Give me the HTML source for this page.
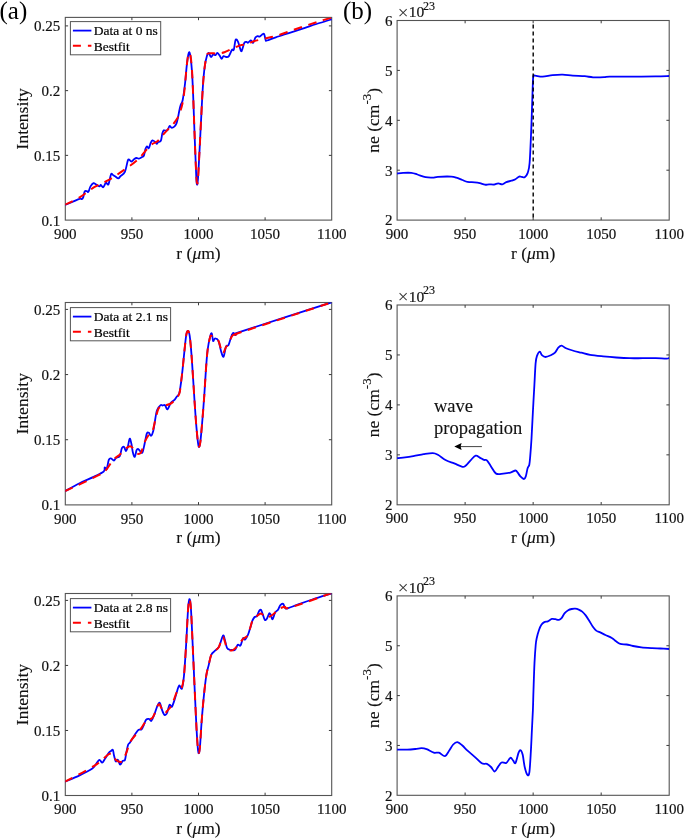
<!DOCTYPE html>
<html><head><meta charset="utf-8"><style>
html,body{margin:0;padding:0;background:#fff;}
svg{display:block;}
.t{font-family:"Liberation Serif","Times New Roman",serif;font-size:15px;fill:#111;stroke:#111;stroke-width:0.18px;}
.l{font-family:"Liberation Serif","Times New Roman",serif;font-size:13.5px;fill:#000;stroke:#000;stroke-width:0.2px;}
.p{font-family:"Liberation Serif","Times New Roman",serif;font-size:25px;fill:#000;}
.lb{font-family:"Liberation Serif","Times New Roman",serif;font-size:17.5px;fill:#111;stroke:#111;stroke-width:0.12px;}
</style></head><body>
<svg width="685" height="838" viewBox="0 0 685 838">
<rect width="685" height="838" fill="#fff"/>
<rect x="65.3" y="17.4" width="266.4" height="202.7" fill="none" stroke="#545454" stroke-width="1.1"/>
<text x="65.3" y="238.7" text-anchor="middle" class="t">900</text>
<line x1="131.9" y1="220.1" x2="131.9" y2="217.3" stroke="#3a3a3a" stroke-width="1"/>
<line x1="131.9" y1="17.4" x2="131.9" y2="20.2" stroke="#3a3a3a" stroke-width="1"/>
<text x="131.9" y="238.7" text-anchor="middle" class="t">950</text>
<line x1="198.5" y1="220.1" x2="198.5" y2="217.3" stroke="#3a3a3a" stroke-width="1"/>
<line x1="198.5" y1="17.4" x2="198.5" y2="20.2" stroke="#3a3a3a" stroke-width="1"/>
<text x="198.5" y="238.7" text-anchor="middle" class="t">1000</text>
<line x1="265.1" y1="220.1" x2="265.1" y2="217.3" stroke="#3a3a3a" stroke-width="1"/>
<line x1="265.1" y1="17.4" x2="265.1" y2="20.2" stroke="#3a3a3a" stroke-width="1"/>
<text x="265.1" y="238.7" text-anchor="middle" class="t">1050</text>
<text x="331.7" y="238.7" text-anchor="middle" class="t">1100</text>
<text x="198.5" y="258.6" text-anchor="middle" class="lb">r (<tspan font-style="italic">μ</tspan>m)</text>
<text x="60.3" y="225.6" text-anchor="end" class="t">0.1</text>
<line x1="65.3" y1="155.37" x2="68.1" y2="155.37" stroke="#3a3a3a" stroke-width="1"/>
<line x1="331.7" y1="155.37" x2="328.9" y2="155.37" stroke="#3a3a3a" stroke-width="1"/>
<text x="60.3" y="160.87" text-anchor="end" class="t">0.15</text>
<line x1="65.3" y1="90.63" x2="68.1" y2="90.63" stroke="#3a3a3a" stroke-width="1"/>
<line x1="331.7" y1="90.63" x2="328.9" y2="90.63" stroke="#3a3a3a" stroke-width="1"/>
<text x="60.3" y="96.13" text-anchor="end" class="t">0.2</text>
<line x1="65.3" y1="25.9" x2="68.1" y2="25.9" stroke="#3a3a3a" stroke-width="1"/>
<line x1="331.7" y1="25.9" x2="328.9" y2="25.9" stroke="#3a3a3a" stroke-width="1"/>
<text x="60.3" y="31.4" text-anchor="end" class="t">0.25</text>
<text transform="translate(27.8,118.75) rotate(-90)" text-anchor="middle" class="lb">Intensity</text>
<rect x="65.3" y="302.5" width="266.4" height="202.4" fill="none" stroke="#545454" stroke-width="1.1"/>
<text x="65.3" y="523.5" text-anchor="middle" class="t">900</text>
<line x1="131.9" y1="504.9" x2="131.9" y2="502.1" stroke="#3a3a3a" stroke-width="1"/>
<line x1="131.9" y1="302.5" x2="131.9" y2="305.3" stroke="#3a3a3a" stroke-width="1"/>
<text x="131.9" y="523.5" text-anchor="middle" class="t">950</text>
<line x1="198.5" y1="504.9" x2="198.5" y2="502.1" stroke="#3a3a3a" stroke-width="1"/>
<line x1="198.5" y1="302.5" x2="198.5" y2="305.3" stroke="#3a3a3a" stroke-width="1"/>
<text x="198.5" y="523.5" text-anchor="middle" class="t">1000</text>
<line x1="265.1" y1="504.9" x2="265.1" y2="502.1" stroke="#3a3a3a" stroke-width="1"/>
<line x1="265.1" y1="302.5" x2="265.1" y2="305.3" stroke="#3a3a3a" stroke-width="1"/>
<text x="265.1" y="523.5" text-anchor="middle" class="t">1050</text>
<text x="331.7" y="523.5" text-anchor="middle" class="t">1100</text>
<text x="198.5" y="543.4" text-anchor="middle" class="lb">r (<tspan font-style="italic">μ</tspan>m)</text>
<text x="60.3" y="510.4" text-anchor="end" class="t">0.1</text>
<line x1="65.3" y1="439.73" x2="68.1" y2="439.73" stroke="#3a3a3a" stroke-width="1"/>
<line x1="331.7" y1="439.73" x2="328.9" y2="439.73" stroke="#3a3a3a" stroke-width="1"/>
<text x="60.3" y="445.23" text-anchor="end" class="t">0.15</text>
<line x1="65.3" y1="374.57" x2="68.1" y2="374.57" stroke="#3a3a3a" stroke-width="1"/>
<line x1="331.7" y1="374.57" x2="328.9" y2="374.57" stroke="#3a3a3a" stroke-width="1"/>
<text x="60.3" y="380.07" text-anchor="end" class="t">0.2</text>
<line x1="65.3" y1="309.4" x2="68.1" y2="309.4" stroke="#3a3a3a" stroke-width="1"/>
<line x1="331.7" y1="309.4" x2="328.9" y2="309.4" stroke="#3a3a3a" stroke-width="1"/>
<text x="60.3" y="314.9" text-anchor="end" class="t">0.25</text>
<text transform="translate(27.8,403.7) rotate(-90)" text-anchor="middle" class="lb">Intensity</text>
<rect x="65.3" y="593.5" width="266.4" height="202" fill="none" stroke="#545454" stroke-width="1.1"/>
<text x="65.3" y="814.1" text-anchor="middle" class="t">900</text>
<line x1="131.9" y1="795.5" x2="131.9" y2="792.7" stroke="#3a3a3a" stroke-width="1"/>
<line x1="131.9" y1="593.5" x2="131.9" y2="596.3" stroke="#3a3a3a" stroke-width="1"/>
<text x="131.9" y="814.1" text-anchor="middle" class="t">950</text>
<line x1="198.5" y1="795.5" x2="198.5" y2="792.7" stroke="#3a3a3a" stroke-width="1"/>
<line x1="198.5" y1="593.5" x2="198.5" y2="596.3" stroke="#3a3a3a" stroke-width="1"/>
<text x="198.5" y="814.1" text-anchor="middle" class="t">1000</text>
<line x1="265.1" y1="795.5" x2="265.1" y2="792.7" stroke="#3a3a3a" stroke-width="1"/>
<line x1="265.1" y1="593.5" x2="265.1" y2="596.3" stroke="#3a3a3a" stroke-width="1"/>
<text x="265.1" y="814.1" text-anchor="middle" class="t">1050</text>
<text x="331.7" y="814.1" text-anchor="middle" class="t">1100</text>
<text x="198.5" y="834" text-anchor="middle" class="lb">r (<tspan font-style="italic">μ</tspan>m)</text>
<text x="60.3" y="801" text-anchor="end" class="t">0.1</text>
<line x1="65.3" y1="730.47" x2="68.1" y2="730.47" stroke="#3a3a3a" stroke-width="1"/>
<line x1="331.7" y1="730.47" x2="328.9" y2="730.47" stroke="#3a3a3a" stroke-width="1"/>
<text x="60.3" y="735.97" text-anchor="end" class="t">0.15</text>
<line x1="65.3" y1="665.43" x2="68.1" y2="665.43" stroke="#3a3a3a" stroke-width="1"/>
<line x1="331.7" y1="665.43" x2="328.9" y2="665.43" stroke="#3a3a3a" stroke-width="1"/>
<text x="60.3" y="670.93" text-anchor="end" class="t">0.2</text>
<line x1="65.3" y1="600.4" x2="68.1" y2="600.4" stroke="#3a3a3a" stroke-width="1"/>
<line x1="331.7" y1="600.4" x2="328.9" y2="600.4" stroke="#3a3a3a" stroke-width="1"/>
<text x="60.3" y="605.9" text-anchor="end" class="t">0.25</text>
<text transform="translate(27.8,694.5) rotate(-90)" text-anchor="middle" class="lb">Intensity</text>
<rect x="397.1" y="20.5" width="272.1" height="199.6" fill="none" stroke="#545454" stroke-width="1.1"/>
<text x="397.1" y="238.7" text-anchor="middle" class="t">900</text>
<line x1="465.12" y1="220.1" x2="465.12" y2="217.3" stroke="#3a3a3a" stroke-width="1"/>
<line x1="465.12" y1="20.5" x2="465.12" y2="23.3" stroke="#3a3a3a" stroke-width="1"/>
<text x="465.12" y="238.7" text-anchor="middle" class="t">950</text>
<line x1="533.15" y1="220.1" x2="533.15" y2="217.3" stroke="#3a3a3a" stroke-width="1"/>
<line x1="533.15" y1="20.5" x2="533.15" y2="23.3" stroke="#3a3a3a" stroke-width="1"/>
<text x="533.15" y="238.7" text-anchor="middle" class="t">1000</text>
<line x1="601.18" y1="220.1" x2="601.18" y2="217.3" stroke="#3a3a3a" stroke-width="1"/>
<line x1="601.18" y1="20.5" x2="601.18" y2="23.3" stroke="#3a3a3a" stroke-width="1"/>
<text x="601.18" y="238.7" text-anchor="middle" class="t">1050</text>
<text x="669.2" y="238.7" text-anchor="middle" class="t">1100</text>
<text x="533.15" y="258.6" text-anchor="middle" class="lb">r (<tspan font-style="italic">μ</tspan>m)</text>
<text x="392.5" y="225.4" text-anchor="end" class="t">2</text>
<line x1="397.1" y1="170.2" x2="399.9" y2="170.2" stroke="#3a3a3a" stroke-width="1"/>
<line x1="669.2" y1="170.2" x2="666.4" y2="170.2" stroke="#3a3a3a" stroke-width="1"/>
<text x="392.5" y="175.5" text-anchor="end" class="t">3</text>
<line x1="397.1" y1="120.3" x2="399.9" y2="120.3" stroke="#3a3a3a" stroke-width="1"/>
<line x1="669.2" y1="120.3" x2="666.4" y2="120.3" stroke="#3a3a3a" stroke-width="1"/>
<text x="392.5" y="125.6" text-anchor="end" class="t">4</text>
<line x1="397.1" y1="70.4" x2="399.9" y2="70.4" stroke="#3a3a3a" stroke-width="1"/>
<line x1="669.2" y1="70.4" x2="666.4" y2="70.4" stroke="#3a3a3a" stroke-width="1"/>
<text x="392.5" y="75.7" text-anchor="end" class="t">5</text>
<text x="392.5" y="25.8" text-anchor="end" class="t">6</text>
<text x="397.7" y="19.5" class="t"><tspan font-size="19" style="stroke-width:0;fill:#333" dy="-0.6">×</tspan><tspan dx="0.3" dy="-1.7" font-size="15.5">10</tspan><tspan dx="-1.1" dy="-7.4" font-size="12">23</tspan></text>
<text transform="translate(379.1,120.3) rotate(-90)" text-anchor="middle" class="lb">ne (cm<tspan dy="-8.4" font-size="13">-3</tspan><tspan dy="8.4">)</tspan></text>
<rect x="397.1" y="305" width="272.1" height="199.8" fill="none" stroke="#545454" stroke-width="1.1"/>
<text x="397.1" y="523.4" text-anchor="middle" class="t">900</text>
<line x1="465.12" y1="504.8" x2="465.12" y2="502" stroke="#3a3a3a" stroke-width="1"/>
<line x1="465.12" y1="305" x2="465.12" y2="307.8" stroke="#3a3a3a" stroke-width="1"/>
<text x="465.12" y="523.4" text-anchor="middle" class="t">950</text>
<line x1="533.15" y1="504.8" x2="533.15" y2="502" stroke="#3a3a3a" stroke-width="1"/>
<line x1="533.15" y1="305" x2="533.15" y2="307.8" stroke="#3a3a3a" stroke-width="1"/>
<text x="533.15" y="523.4" text-anchor="middle" class="t">1000</text>
<line x1="601.18" y1="504.8" x2="601.18" y2="502" stroke="#3a3a3a" stroke-width="1"/>
<line x1="601.18" y1="305" x2="601.18" y2="307.8" stroke="#3a3a3a" stroke-width="1"/>
<text x="601.18" y="523.4" text-anchor="middle" class="t">1050</text>
<text x="669.2" y="523.4" text-anchor="middle" class="t">1100</text>
<text x="533.15" y="543.3" text-anchor="middle" class="lb">r (<tspan font-style="italic">μ</tspan>m)</text>
<text x="392.5" y="510.1" text-anchor="end" class="t">2</text>
<line x1="397.1" y1="454.85" x2="399.9" y2="454.85" stroke="#3a3a3a" stroke-width="1"/>
<line x1="669.2" y1="454.85" x2="666.4" y2="454.85" stroke="#3a3a3a" stroke-width="1"/>
<text x="392.5" y="460.15" text-anchor="end" class="t">3</text>
<line x1="397.1" y1="404.9" x2="399.9" y2="404.9" stroke="#3a3a3a" stroke-width="1"/>
<line x1="669.2" y1="404.9" x2="666.4" y2="404.9" stroke="#3a3a3a" stroke-width="1"/>
<text x="392.5" y="410.2" text-anchor="end" class="t">4</text>
<line x1="397.1" y1="354.95" x2="399.9" y2="354.95" stroke="#3a3a3a" stroke-width="1"/>
<line x1="669.2" y1="354.95" x2="666.4" y2="354.95" stroke="#3a3a3a" stroke-width="1"/>
<text x="392.5" y="360.25" text-anchor="end" class="t">5</text>
<text x="392.5" y="310.3" text-anchor="end" class="t">6</text>
<text x="397.7" y="304" class="t"><tspan font-size="19" style="stroke-width:0;fill:#333" dy="-0.6">×</tspan><tspan dx="0.3" dy="-1.7" font-size="15.5">10</tspan><tspan dx="-1.1" dy="-7.4" font-size="12">23</tspan></text>
<text transform="translate(379.1,404.9) rotate(-90)" text-anchor="middle" class="lb">ne (cm<tspan dy="-8.4" font-size="13">-3</tspan><tspan dy="8.4">)</tspan></text>
<rect x="397.1" y="595.9" width="272.1" height="199.4" fill="none" stroke="#545454" stroke-width="1.1"/>
<text x="397.1" y="813.9" text-anchor="middle" class="t">900</text>
<line x1="465.12" y1="795.3" x2="465.12" y2="792.5" stroke="#3a3a3a" stroke-width="1"/>
<line x1="465.12" y1="595.9" x2="465.12" y2="598.7" stroke="#3a3a3a" stroke-width="1"/>
<text x="465.12" y="813.9" text-anchor="middle" class="t">950</text>
<line x1="533.15" y1="795.3" x2="533.15" y2="792.5" stroke="#3a3a3a" stroke-width="1"/>
<line x1="533.15" y1="595.9" x2="533.15" y2="598.7" stroke="#3a3a3a" stroke-width="1"/>
<text x="533.15" y="813.9" text-anchor="middle" class="t">1000</text>
<line x1="601.18" y1="795.3" x2="601.18" y2="792.5" stroke="#3a3a3a" stroke-width="1"/>
<line x1="601.18" y1="595.9" x2="601.18" y2="598.7" stroke="#3a3a3a" stroke-width="1"/>
<text x="601.18" y="813.9" text-anchor="middle" class="t">1050</text>
<text x="669.2" y="813.9" text-anchor="middle" class="t">1100</text>
<text x="533.15" y="833.8" text-anchor="middle" class="lb">r (<tspan font-style="italic">μ</tspan>m)</text>
<text x="392.5" y="800.6" text-anchor="end" class="t">2</text>
<line x1="397.1" y1="745.45" x2="399.9" y2="745.45" stroke="#3a3a3a" stroke-width="1"/>
<line x1="669.2" y1="745.45" x2="666.4" y2="745.45" stroke="#3a3a3a" stroke-width="1"/>
<text x="392.5" y="750.75" text-anchor="end" class="t">3</text>
<line x1="397.1" y1="695.6" x2="399.9" y2="695.6" stroke="#3a3a3a" stroke-width="1"/>
<line x1="669.2" y1="695.6" x2="666.4" y2="695.6" stroke="#3a3a3a" stroke-width="1"/>
<text x="392.5" y="700.9" text-anchor="end" class="t">4</text>
<line x1="397.1" y1="645.75" x2="399.9" y2="645.75" stroke="#3a3a3a" stroke-width="1"/>
<line x1="669.2" y1="645.75" x2="666.4" y2="645.75" stroke="#3a3a3a" stroke-width="1"/>
<text x="392.5" y="651.05" text-anchor="end" class="t">5</text>
<text x="392.5" y="601.2" text-anchor="end" class="t">6</text>
<text x="397.7" y="594.9" class="t"><tspan font-size="19" style="stroke-width:0;fill:#333" dy="-0.6">×</tspan><tspan dx="0.3" dy="-1.7" font-size="15.5">10</tspan><tspan dx="-1.1" dy="-7.4" font-size="12">23</tspan></text>
<text transform="translate(379.1,695.6) rotate(-90)" text-anchor="middle" class="lb">ne (cm<tspan dy="-8.4" font-size="13">-3</tspan><tspan dy="8.4">)</tspan></text>
<clipPath id="clip-a1"><rect x="65.3" y="17.4" width="266.4" height="202.7"/></clipPath>
<path d="M65,205 C66.22,204.5 69.87,203.03 72.3,202 C74.73,200.97 78.02,199.28 79.6,198.8 C81.18,198.32 81.2,199.33 81.8,199.1 C82.4,198.87 82.72,198.67 83.2,197.4 C83.68,196.13 84.08,192.53 84.7,191.5 C85.32,190.47 86.28,191.15 86.9,191.2 C87.52,191.25 87.8,192.6 88.4,191.8 C89,191 89.65,187.85 90.5,186.4 C91.35,184.95 92.63,183.47 93.5,183.1 C94.37,182.73 94.73,183.65 95.7,184.2 C96.67,184.75 98.45,186.27 99.3,186.4 C100.15,186.53 100.15,184.87 100.8,185 C101.45,185.13 102.35,187.57 103.2,187.2 C104.05,186.83 105.02,183.3 105.9,182.8 C106.78,182.3 107.65,185.62 108.5,184.2 C109.35,182.78 110.22,175.8 111,174.3 C111.78,172.8 112.47,174.82 113.2,175.2 C113.93,175.58 114.55,176.07 115.4,176.6 C116.25,177.13 117.45,178.47 118.3,178.4 C119.15,178.33 119.4,177.3 120.5,176.2 C121.6,175.1 123.68,174.4 124.9,171.8 C126.12,169.2 127.08,162.62 127.8,160.6 C128.52,158.58 128.6,159.53 129.2,159.7 C129.8,159.87 130.55,161.7 131.4,161.6 C132.25,161.5 133.45,159.7 134.3,159.1 C135.15,158.5 135.77,158.07 136.5,158 C137.23,157.93 137.85,158.83 138.7,158.7 C139.55,158.57 140.75,157.68 141.6,157.2 C142.45,156.72 143.15,157.18 143.8,155.8 C144.45,154.42 144.98,150.47 145.5,148.9 C146.02,147.33 146.35,146.52 146.9,146.4 C147.45,146.28 148.18,148.75 148.8,148.2 C149.42,147.65 150,144.38 150.6,143.1 C151.2,141.82 151.62,140.68 152.4,140.5 C153.18,140.32 154.57,141.45 155.3,142 C156.03,142.55 156.32,143.8 156.8,143.8 C157.28,143.8 157.53,142.48 158.2,142 C158.87,141.52 160.12,142.3 160.8,140.9 C161.48,139.5 161.82,135.37 162.3,133.6 C162.78,131.83 163.22,130.78 163.7,130.3 C164.18,129.82 164.53,130.77 165.2,130.7 C165.87,130.63 166.97,130.7 167.7,129.9 C168.43,129.1 168.98,126.27 169.6,125.9 C170.22,125.53 170.62,127.58 171.4,127.7 C172.18,127.82 173.45,127.32 174.3,126.6 C175.15,125.88 175.88,124.92 176.5,123.4 C177.12,121.88 177.52,119.7 178,117.5 C178.48,115.3 178.92,112.38 179.4,110.2 C179.88,108.02 180.35,106.1 180.9,104.4 C181.45,102.7 182,103.57 182.7,100 C183.4,96.43 184.42,88.82 185.1,83 C185.78,77.18 186.22,70.03 186.8,65.1 C187.38,60.17 188.05,55.2 188.6,53.4 C189.15,51.6 189.55,51.47 190.1,54.3 C190.65,57.13 191.4,63.83 191.9,70.4 C192.4,76.97 192.68,83.85 193.1,93.7 C193.52,103.55 193.95,117.57 194.4,129.5 C194.85,141.43 195.42,156.35 195.8,165.3 C196.18,174.25 196.35,180.82 196.7,183.2 C197.05,185.58 197.4,185.57 197.9,179.6 C198.4,173.63 199.1,158.73 199.7,147.4 C200.3,136.07 200.95,122.05 201.5,111.6 C202.05,101.15 202.47,92.17 203,84.7 C203.53,77.23 204.05,71.57 204.7,66.8 C205.35,62.03 206.23,58.42 206.9,56.1 C207.57,53.78 208.02,52.75 208.7,52.9 C209.38,53.05 210.23,56.77 211,57 C211.77,57.23 212.55,54.6 213.3,54.3 C214.05,54 214.83,55.43 215.5,55.2 C216.17,54.97 216.55,52.75 217.3,52.9 C218.05,53.05 219.27,55.12 220,56.1 C220.73,57.08 221.12,58.8 221.7,58.8 C222.28,58.8 222.75,56.4 223.5,56.1 C224.25,55.8 225.3,57 226.2,57 C227.1,57 227.93,57.32 228.9,56.1 C229.87,54.88 231.18,50.77 232,49.7 C232.82,48.63 233.2,51.35 233.8,49.7 C234.4,48.05 234.93,41.2 235.6,39.8 C236.27,38.4 237.18,40.32 237.8,41.3 C238.42,42.28 238.75,44.05 239.3,45.7 C239.85,47.35 240.57,50.72 241.1,51.2 C241.63,51.68 241.95,50.02 242.5,48.6 C243.05,47.18 243.72,43.8 244.4,42.7 C245.08,41.6 245.98,42 246.6,42 C247.22,42 247.37,42.95 248.1,42.7 C248.83,42.45 250.15,40.5 251,40.5 C251.85,40.5 252.47,43.18 253.2,42.7 C253.93,42.22 254.68,38.68 255.4,37.6 C256.12,36.52 256.78,36.37 257.5,36.2 C258.22,36.03 258.97,36.85 259.7,36.6 C260.43,36.35 261.17,35.13 261.9,34.7 C262.63,34.27 263.48,33.15 264.1,34 C264.72,34.85 265.12,38.72 265.6,39.8 C266.08,40.88 265.3,40.92 267,40.5 C268.7,40.08 271.9,38.62 275.8,37.3 C279.7,35.98 285.53,34.18 290.4,32.6 C295.27,31.02 300.13,29.4 305,27.8 C309.87,26.2 315.1,24.43 319.6,23 C324.1,21.57 329.93,19.83 332,19.2" fill="none" stroke="#0000ff" stroke-width="1.8" stroke-linejoin="round" clip-path="url(#clip-a1)"/>
<path d="M65,204.7 C67.43,203.48 74.73,200.32 79.6,197.4 C84.47,194.48 89.33,190.12 94.2,187.2 C99.07,184.28 103.93,182.7 108.8,179.9 C113.67,177.1 118.53,173.82 123.4,170.4 C128.27,166.98 133.53,163.53 138,159.4 C142.47,155.27 146.95,148.63 150.2,145.6 C153.45,142.57 155.55,142.78 157.5,141.2 C159.45,139.62 160.2,138.03 161.9,136.1 C163.6,134.17 166,131.37 167.7,129.6 C169.4,127.83 170.52,127.33 172.1,125.5 C173.68,123.67 175.92,120.78 177.2,118.6 C178.48,116.42 178.95,114.77 179.8,112.4 C180.65,110.03 181.52,108.13 182.3,104.4 C183.08,100.67 183.8,96.07 184.5,90 C185.2,83.93 185.92,73.67 186.5,68 C187.08,62.33 187.53,58.5 188,56 C188.47,53.5 188.87,53 189.3,53 C189.73,53 190.15,53.1 190.6,56 C191.05,58.9 191.58,64.12 192,70.4 C192.42,76.68 192.7,83.85 193.1,93.7 C193.5,103.55 193.95,117.57 194.4,129.5 C194.85,141.43 195.43,156.88 195.8,165.3 C196.17,173.72 196.37,177.05 196.6,180 C196.83,182.95 196.97,183.07 197.2,183 C197.43,182.93 197.58,185.53 198,179.6 C198.42,173.67 199.12,158.73 199.7,147.4 C200.28,136.07 200.95,122.05 201.5,111.6 C202.05,101.15 202.47,92.17 203,84.7 C203.53,77.23 204.12,71.42 204.7,66.8 C205.28,62.18 205.9,59.23 206.5,57 C207.1,54.77 206.5,54 208.3,53.4 C210.1,52.8 214.62,53.58 217.3,53.4 C219.98,53.22 221.95,53.07 224.4,52.3 C226.85,51.53 229.4,49.95 232,48.8 C234.6,47.65 237.57,46.17 240,45.4 C242.43,44.63 244.28,44.88 246.6,44.2 C248.92,43.52 250.73,42.27 253.9,41.3 C257.07,40.33 261.95,39.28 265.6,38.4 C269.25,37.52 271.67,37.23 275.8,36 C279.93,34.77 285.53,32.67 290.4,31 C295.27,29.33 300.13,27.63 305,26 C309.87,24.37 315.1,22.62 319.6,21.2 C324.1,19.78 329.93,18.12 332,17.5" fill="none" stroke="#ff0000" stroke-width="2" stroke-dasharray="8.5,6.7" clip-path="url(#clip-a1)"/>
<clipPath id="clip-a2"><rect x="65.3" y="302.5" width="266.4" height="202.4"/></clipPath>
<path d="M65,491.2 C67.43,489.87 74.73,485.63 79.6,483.2 C84.47,480.77 90.18,478.55 94.2,476.6 C98.22,474.65 101.95,473.03 103.7,471.5 C105.45,469.97 104.22,467.77 104.7,467.4 C105.18,467.03 105.92,470.55 106.6,469.3 C107.28,468.05 108.07,461.72 108.8,459.9 C109.53,458.08 110.15,458.28 111,458.4 C111.85,458.52 113.05,460.72 113.9,460.6 C114.75,460.48 115.13,458.43 116.1,457.7 C117.07,456.97 118.73,457.78 119.7,456.2 C120.67,454.62 121.17,449.73 121.9,448.2 C122.63,446.67 123.42,446.52 124.1,447 C124.78,447.48 125.38,451.15 126,451.1 C126.62,451.05 127.18,448.77 127.8,446.7 C128.42,444.63 129.1,439.18 129.7,438.7 C130.3,438.22 130.87,441.48 131.4,443.8 C131.93,446.12 132.33,450.42 132.9,452.6 C133.47,454.78 134.2,457.27 134.8,456.9 C135.4,456.53 135.97,451.73 136.5,450.4 C137.03,449.07 137.38,448.78 138,448.9 C138.62,449.02 139.47,450.48 140.2,451.1 C140.93,451.72 141.67,453.82 142.4,452.6 C143.13,451.38 143.87,446.97 144.6,443.8 C145.33,440.63 146.08,435.43 146.8,433.6 C147.52,431.77 148.18,432.43 148.9,432.8 C149.62,433.17 150.37,436.15 151.1,435.8 C151.83,435.45 152.68,433.02 153.3,430.7 C153.92,428.38 154.18,425.32 154.8,421.9 C155.42,418.48 156.03,413 157,410.2 C157.97,407.4 159.68,405.88 160.6,405.1 C161.52,404.32 161.77,405.48 162.5,405.5 C163.23,405.52 164.17,404.55 165,405.2 C165.83,405.85 166.52,409.82 167.5,409.4 C168.48,408.98 169.78,404.23 170.9,402.7 C172.02,401.17 173.23,401.18 174.2,400.2 C175.17,399.22 175.87,397.92 176.7,396.8 C177.53,395.68 178.5,395.72 179.2,393.5 C179.9,391.28 180.35,387.4 180.9,383.5 C181.45,379.6 181.87,375.95 182.5,370.1 C183.13,364.25 184.05,354.38 184.7,348.4 C185.35,342.42 185.83,337.12 186.4,334.2 C186.97,331.28 187.55,330.62 188.1,330.9 C188.65,331.18 189.15,332.15 189.7,335.9 C190.25,339.65 190.83,346.3 191.4,353.4 C191.97,360.5 192.55,370.15 193.1,378.5 C193.65,386.85 194.15,395.43 194.7,403.5 C195.25,411.57 195.78,419.93 196.4,426.9 C197.02,433.87 197.78,442.52 198.4,445.3 C199.02,448.08 199.48,447.23 200.1,443.6 C200.72,439.97 201.4,431.57 202.1,423.5 C202.8,415.43 203.67,404.1 204.3,395.2 C204.93,386.3 205.35,377.62 205.9,370.1 C206.45,362.58 206.9,355.67 207.6,350.1 C208.3,344.53 209.4,339.48 210.1,336.7 C210.8,333.92 211.3,332.7 211.8,333.4 C212.3,334.1 212.55,340.07 213.1,340.9 C213.65,341.73 214.2,338.4 215.1,338.4 C216,338.4 217.52,338.82 218.5,340.9 C219.48,342.98 220.17,348.27 221,350.9 C221.83,353.53 222.67,357.4 223.5,356.7 C224.33,356 225.17,348.63 226,346.7 C226.83,344.77 227.67,346.63 228.5,345.1 C229.33,343.57 230.25,339.52 231,337.5 C231.75,335.48 232.3,333.42 233,333 C233.7,332.58 234.52,334.95 235.2,335 C235.88,335.05 236.42,333.78 237.1,333.3 C237.78,332.82 223.48,337.28 239.3,332.1 C255.12,326.92 316.55,307.18 332,302.2" fill="none" stroke="#0000ff" stroke-width="1.8" stroke-linejoin="round" clip-path="url(#clip-a2)"/>
<path d="M65,491.2 C70.6,488.53 91.78,478.72 98.6,475.2 C105.42,471.68 103.47,472.65 105.9,470.1 C108.33,467.55 110.9,462.47 113.2,459.9 C115.5,457.33 117.52,456.65 119.7,454.7 C121.88,452.75 124.72,449.58 126.3,448.2 C127.88,446.82 128.22,446.53 129.2,446.4 C130.18,446.27 130.98,446.25 132.2,447.4 C133.42,448.55 135.05,452.43 136.5,453.3 C137.95,454.17 139.55,454.43 140.9,452.6 C142.25,450.77 143.38,445.1 144.6,442.3 C145.82,439.5 146.87,437.73 148.2,435.8 C149.53,433.87 151.38,433.5 152.6,430.7 C153.82,427.9 154.53,422.65 155.5,419 C156.47,415.35 157.3,411 158.4,408.8 C159.5,406.6 161,406.35 162.1,405.8 C163.2,405.25 163.53,405.88 165,405.5 C166.47,405.12 169.37,404.33 170.9,403.5 C172.43,402.67 172.82,402.08 174.2,400.5 C175.58,398.92 178.08,396.83 179.2,394 C180.32,391.17 180.35,387.48 180.9,383.5 C181.45,379.52 181.87,375.95 182.5,370.1 C183.13,364.25 184.05,354.38 184.7,348.4 C185.35,342.42 185.83,337.1 186.4,334.2 C186.97,331.3 187.55,330.72 188.1,331 C188.65,331.28 189.15,332.17 189.7,335.9 C190.25,339.63 190.83,346.3 191.4,353.4 C191.97,360.5 192.55,370.15 193.1,378.5 C193.65,386.85 194.15,395.43 194.7,403.5 C195.25,411.57 195.78,419.98 196.4,426.9 C197.02,433.82 197.78,442.22 198.4,445 C199.02,447.78 199.48,447.18 200.1,443.6 C200.72,440.02 201.4,431.57 202.1,423.5 C202.8,415.43 203.67,404.1 204.3,395.2 C204.93,386.3 205.35,377.62 205.9,370.1 C206.45,362.58 206.9,355.62 207.6,350.1 C208.3,344.58 209.37,339.35 210.1,337 C210.83,334.65 211.17,335.92 212,336 C212.83,336.08 214.02,336.67 215.1,337.5 C216.18,338.33 217.52,339.08 218.5,341 C219.48,342.92 220.23,346.93 221,349 C221.77,351.07 222.27,353.73 223.1,353.4 C223.93,353.07 225.1,348.48 226,347 C226.9,345.52 227.67,346 228.5,344.5 C229.33,343 230.25,339.58 231,338 C231.75,336.42 232.17,335.58 233,335 C233.83,334.42 234.95,334.87 236,334.5 C237.05,334.13 223.3,338.18 239.3,332.8 C255.3,327.42 316.55,307.3 332,302.2" fill="none" stroke="#ff0000" stroke-width="2" stroke-dasharray="8.5,6.7" clip-path="url(#clip-a2)"/>
<clipPath id="clip-a3"><rect x="65.3" y="593.5" width="266.4" height="202"/></clipPath>
<path d="M65,781.7 C67.43,780.65 75.1,777.55 79.6,775.4 C84.1,773.25 89.32,770.62 92,768.8 C94.68,766.98 94.48,766 95.7,764.5 C96.92,763 98.22,760.1 99.3,759.8 C100.38,759.5 101.23,762.9 102.2,762.7 C103.17,762.5 104,760.25 105.1,758.6 C106.2,756.95 107.82,754.07 108.8,752.8 C109.78,751.53 110.32,751.48 111,751 C111.68,750.52 112.42,749.23 112.9,749.9 C113.38,750.57 113.42,753.07 113.9,755 C114.38,756.93 115.15,760.7 115.8,761.5 C116.45,762.3 117.07,759.27 117.8,759.8 C118.53,760.33 119.38,764.53 120.2,764.7 C121.02,764.87 121.92,761.57 122.7,760.8 C123.48,760.03 124.3,761.43 124.9,760.1 C125.5,758.77 125.77,755.37 126.3,752.8 C126.83,750.23 127.48,746.4 128.1,744.7 C128.72,743 129.08,743.93 130,742.6 C130.92,741.27 132.52,738.42 133.6,736.7 C134.68,734.98 135.65,733.47 136.5,732.3 C137.35,731.13 137.85,730.18 138.7,729.7 C139.55,729.22 140.75,730.18 141.6,729.4 C142.45,728.62 143.07,726.58 143.8,725 C144.53,723.42 145.15,720.92 146,719.9 C146.85,718.88 148.05,718.72 148.9,718.9 C149.75,719.08 150.48,721.07 151.1,721 C151.72,720.93 151.98,719.77 152.6,718.5 C153.22,717.23 154.07,715.35 154.8,713.4 C155.53,711.45 156.27,708.57 157,706.8 C157.73,705.03 158.62,703.18 159.2,702.8 C159.78,702.42 160.03,703.33 160.5,704.5 C160.97,705.67 161.33,708.07 162,709.8 C162.67,711.53 163.65,714.4 164.5,714.9 C165.35,715.4 166.27,714.5 167.1,712.8 C167.93,711.1 168.72,705.7 169.5,704.7 C170.28,703.7 170.95,707.65 171.8,706.8 C172.65,705.95 173.68,702.32 174.6,699.6 C175.52,696.88 176.52,692.87 177.3,690.5 C178.08,688.13 178.53,685.73 179.3,685.4 C180.07,685.07 181.12,690.18 181.9,688.5 C182.68,686.82 183.32,682.23 184,675.3 C184.68,668.37 185.33,657.73 186,646.9 C186.67,636.07 187.43,618.27 188,610.3 C188.57,602.33 188.92,599.43 189.4,599.1 C189.88,598.77 190.38,601.35 190.9,608.3 C191.42,615.25 191.9,627.95 192.5,640.8 C193.1,653.65 193.83,670.85 194.5,685.4 C195.17,699.95 195.88,717.1 196.5,728.1 C197.12,739.1 197.65,748.02 198.2,751.4 C198.75,754.78 199.23,753.3 199.8,748.4 C200.37,743.5 200.95,730.47 201.6,722 C202.25,713.53 202.92,705.38 203.7,697.6 C204.48,689.82 205.47,680.72 206.3,675.3 C207.13,669.88 207.88,668.48 208.7,665.1 C209.52,661.72 210.18,657.37 211.2,655 C212.22,652.63 213.52,652.25 214.8,650.9 C216.08,649.55 217.55,649.43 218.9,646.9 C220.25,644.37 221.95,637.07 222.9,635.7 C223.85,634.33 223.92,636.67 224.6,638.7 C225.28,640.73 226.1,646.03 227,647.9 C227.9,649.77 229.17,649.57 230,649.9 C230.83,650.23 231.18,649.9 232,649.9 C232.82,649.9 233.93,650.77 234.9,649.9 C235.87,649.03 236.87,645.43 237.8,644.7 C238.73,643.97 239.63,646.58 240.5,645.5 C241.37,644.42 242.23,639.18 243,638.2 C243.77,637.22 244.25,640.22 245.1,639.6 C245.95,638.98 247.25,636.43 248.1,634.5 C248.95,632.57 249.48,630.3 250.2,628 C250.92,625.7 251.67,622.53 252.4,620.7 C253.13,618.87 253.87,617.73 254.6,617 C255.33,616.27 256.07,617.27 256.8,616.3 C257.53,615.33 258.32,612.3 259,611.2 C259.68,610.1 260.28,609.22 260.9,609.7 C261.52,610.18 262.05,612.4 262.7,614.1 C263.35,615.8 264.08,619.17 264.8,619.9 C265.52,620.63 266.27,619.58 267,618.5 C267.73,617.42 268.58,614.02 269.2,613.4 C269.82,612.78 270.13,613.83 270.7,614.8 C271.27,615.77 271.87,619.57 272.6,619.2 C273.33,618.83 274.2,614.18 275.1,612.6 C276,611.02 277.15,610.92 278,609.7 C278.85,608.48 279.35,606.27 280.2,605.3 C281.05,604.33 282.25,603.42 283.1,603.9 C283.95,604.38 284.45,607.48 285.3,608.2 C286.15,608.92 286.13,608.8 288.2,608.2 C290.27,607.6 293.68,606.05 297.7,604.6 C301.72,603.15 306.58,601.37 312.3,599.5 C318.02,597.63 328.72,594.42 332,593.4" fill="none" stroke="#0000ff" stroke-width="1.8" stroke-linejoin="round" clip-path="url(#clip-a3)"/>
<path d="M65,781.7 C69.87,779.07 86.9,770.48 94.2,765.9 C101.5,761.32 105.63,756.02 108.8,754.2 C111.97,752.38 111.98,754.02 113.2,755 C114.42,755.98 114.65,759.02 116.1,760.1 C117.55,761.18 120.2,762.72 121.9,761.5 C123.6,760.28 124.83,756.2 126.3,752.8 C127.77,749.4 128.27,745.12 130.7,741.1 C133.13,737.08 138.22,732.23 140.9,728.7 C143.58,725.17 144.85,721.73 146.8,719.9 C148.75,718.07 150.67,720.25 152.6,717.7 C154.53,715.15 156.93,706.22 158.4,704.6 C159.87,702.98 160.38,706.52 161.4,708 C162.42,709.48 163.55,713 164.5,713.5 C165.45,714 165.88,712.42 167.1,711 C168.32,709.58 170.1,708.33 171.8,705 C173.5,701.67 175.62,694 177.3,691 C178.98,688 180.78,689.62 181.9,687 C183.02,684.38 183.32,681.98 184,675.3 C184.68,668.62 185.33,657.73 186,646.9 C186.67,636.07 187.43,618.27 188,610.3 C188.57,602.33 188.92,599.43 189.4,599.1 C189.88,598.77 190.38,601.35 190.9,608.3 C191.42,615.25 191.9,627.95 192.5,640.8 C193.1,653.65 193.83,670.85 194.5,685.4 C195.17,699.95 195.88,717.17 196.5,728.1 C197.12,739.03 197.65,747.62 198.2,751 C198.75,754.38 199.23,753.23 199.8,748.4 C200.37,743.57 200.95,730.47 201.6,722 C202.25,713.53 202.92,705.38 203.7,697.6 C204.48,689.82 205.47,680.72 206.3,675.3 C207.13,669.88 207.88,668.48 208.7,665.1 C209.52,661.72 210.18,657.37 211.2,655 C212.22,652.63 213.52,652.25 214.8,650.9 C216.08,649.55 217.55,649.22 218.9,646.9 C220.25,644.58 221.55,636.83 222.9,637 C224.25,637.17 225.48,645.65 227,647.9 C228.52,650.15 230.2,650.9 232,650.5 C233.8,650.1 235.97,647.42 237.8,645.5 C239.63,643.58 241.28,640.83 243,639 C244.72,637.17 246.53,637.55 248.1,634.5 C249.67,631.45 250.95,623.73 252.4,620.7 C253.85,617.67 255.33,617.52 256.8,616.3 C258.27,615.08 259.73,613.17 261.2,613.4 C262.67,613.63 263.9,617.35 265.6,617.7 C267.3,618.05 269.7,616.47 271.4,615.5 C273.1,614.53 274.58,612.98 275.8,611.9 C277.02,610.82 277.23,609.85 278.7,609 C280.17,608.15 282.65,607.05 284.6,606.8 C286.55,606.55 282.5,609.82 290.4,607.5 C298.3,605.18 325.07,595.33 332,592.9" fill="none" stroke="#ff0000" stroke-width="2" stroke-dasharray="8.5,6.7" clip-path="url(#clip-a3)"/>
<clipPath id="clip-b1"><rect x="397.1" y="20.5" width="272.1" height="199.6"/></clipPath>
<path d="M397,173.5 C398.02,173.4 400.72,173 403.1,172.9 C405.48,172.8 408.92,172.63 411.3,172.9 C413.68,173.17 415.02,173.78 417.4,174.5 C419.78,175.22 423.03,176.68 425.6,177.2 C428.17,177.72 430.75,177.67 432.8,177.6 C434.85,177.53 434.83,176.97 437.9,176.8 C440.97,176.63 448.13,176.47 451.2,176.6 C454.27,176.73 454.43,177.03 456.3,177.6 C458.17,178.17 460.53,179.28 462.4,180 C464.27,180.72 465.45,181.52 467.5,181.9 C469.55,182.28 472.65,182.1 474.7,182.3 C476.75,182.5 478.1,182.7 479.8,183.1 C481.5,183.5 483.37,184.5 484.9,184.7 C486.43,184.9 487.47,184.33 489,184.3 C490.53,184.27 492.57,184.67 494.1,184.5 C495.63,184.33 496.83,183.33 498.2,183.3 C499.57,183.27 500.95,184.5 502.3,184.3 C503.65,184.1 504.77,182.7 506.3,182.1 C507.83,181.5 509.97,181.18 511.5,180.7 C513.03,180.22 514.22,179.88 515.5,179.2 C516.78,178.52 518.1,176.97 519.2,176.6 C520.3,176.23 521.18,176.9 522.1,177 C523.02,177.1 523.78,177.85 524.7,177.2 C525.62,176.55 526.78,175.47 527.6,173.1 C528.42,170.73 528.98,170.53 529.6,163 C530.22,155.47 530.8,140.02 531.3,127.9 C531.8,115.78 532.27,98.87 532.6,90.3 C532.93,81.73 532.88,78.93 533.3,76.5 C533.72,74.07 533.55,75.67 535.1,75.7 C536.65,75.73 539.68,76.78 542.6,76.7 C545.52,76.62 549.25,75.53 552.6,75.2 C555.95,74.87 559.35,74.62 562.7,74.7 C566.05,74.78 569.03,75.45 572.7,75.7 C576.37,75.95 581.32,75.93 584.7,76.2 C588.08,76.47 589.77,77.13 593,77.3 C596.23,77.47 601.32,77.32 604.1,77.2 C606.88,77.08 605.3,76.7 609.7,76.6 C614.1,76.5 622.88,76.63 630.5,76.6 C638.12,76.57 648.95,76.5 655.4,76.4 C661.85,76.3 666.9,76.07 669.2,76" fill="none" stroke="#0000ff" stroke-width="1.8" stroke-linejoin="round" clip-path="url(#clip-b1)"/>
<line x1="533.2" y1="24.4" x2="533.2" y2="220.2" stroke="#000" stroke-width="1.4" stroke-dasharray="4,3"/>
<clipPath id="clip-b2"><rect x="397.1" y="305" width="272.1" height="199.8"/></clipPath>
<path d="M397,458.2 C398.02,458.1 400.38,457.93 403.1,457.6 C405.82,457.27 409.88,456.77 413.3,456.2 C416.72,455.63 420.35,454.72 423.6,454.2 C426.85,453.68 430.42,453 432.8,453.1 C435.18,453.2 435.7,453.6 437.9,454.8 C440.1,456 443.28,458.87 446,460.3 C448.72,461.73 451.47,462.32 454.2,463.4 C456.93,464.48 460.52,466.4 462.4,466.8 C464.28,467.2 464.13,466.88 465.5,465.8 C466.87,464.72 468.9,462 470.6,460.3 C472.3,458.6 474.17,456.05 475.7,455.6 C477.23,455.15 478.43,456.88 479.8,457.6 C481.17,458.32 482.72,459.45 483.9,459.9 C485.08,460.35 485.72,459.22 486.9,460.3 C488.08,461.38 489.47,464.18 491,466.4 C492.53,468.62 494.05,472.4 496.1,473.6 C498.15,474.8 500.92,473.77 503.3,473.6 C505.68,473.43 508.37,473.12 510.4,472.6 C512.43,472.08 514.28,470.48 515.5,470.5 C516.72,470.52 516.88,471.73 517.7,472.7 C518.52,473.67 519.35,475.25 520.4,476.3 C521.45,477.35 523.1,479 524,479 C524.9,479 525.2,478.08 525.8,476.3 C526.4,474.52 527.02,470.23 527.6,468.3 C528.18,466.37 528.87,466.65 529.3,464.7 C529.73,462.75 529.83,460.93 530.2,456.6 C530.57,452.27 531.05,446.18 531.5,438.7 C531.95,431.22 532.42,420.68 532.9,411.7 C533.38,402.72 533.95,392.87 534.4,384.8 C534.85,376.73 535.18,368.08 535.6,363.3 C536.02,358.52 536.2,358.03 536.9,356.1 C537.6,354.17 538.97,351.85 539.8,351.7 C540.63,351.55 540.95,354.32 541.9,355.2 C542.85,356.08 544,357 545.5,357 C547,357 549.32,355.92 550.9,355.2 C552.48,354.48 553.77,353.95 555,352.7 C556.23,351.45 557.2,348.87 558.3,347.7 C559.4,346.53 560.32,345.6 561.6,345.7 C562.88,345.8 564.17,347.5 566,348.3 C567.83,349.1 570.05,349.77 572.6,350.5 C575.15,351.23 578.38,351.97 581.3,352.7 C584.22,353.43 586.45,354.28 590.1,354.9 C593.75,355.52 598.83,355.97 603.2,356.4 C607.57,356.83 611.92,357.2 616.3,357.5 C620.68,357.8 625.12,358.08 629.5,358.2 C633.88,358.32 638.22,358.2 642.6,358.2 C646.98,358.2 651.78,358.13 655.8,358.2 C659.82,358.27 664.47,358.65 666.7,358.6 C668.93,358.55 668.78,358.02 669.2,357.9" fill="none" stroke="#0000ff" stroke-width="1.8" stroke-linejoin="round" clip-path="url(#clip-b2)"/>
<clipPath id="clip-b3"><rect x="397.1" y="595.9" width="272.1" height="199.4"/></clipPath>
<path d="M397,749.6 C398.7,749.6 404.13,749.7 407.2,749.6 C410.27,749.5 413.02,749.23 415.4,749 C417.78,748.77 419.63,748.17 421.5,748.2 C423.37,748.23 424.55,748.45 426.6,749.2 C428.65,749.95 431.75,752.12 433.8,752.7 C435.85,753.28 437.03,752.12 438.9,752.7 C440.77,753.28 443.3,756.53 445,756.2 C446.7,755.87 447.73,752.65 449.1,750.7 C450.47,748.75 451.83,745.93 453.2,744.5 C454.57,743.07 455.77,741.93 457.3,742.1 C458.83,742.27 460.7,744.07 462.4,745.5 C464.1,746.93 465.45,748.82 467.5,750.7 C469.55,752.58 472.32,754.7 474.7,756.8 C477.08,758.9 479.77,762.12 481.8,763.3 C483.83,764.48 485.37,763.28 486.9,763.9 C488.43,764.52 489.7,765.73 491,767 C492.3,768.27 493.5,771.57 494.7,771.5 C495.9,771.43 497.05,768.1 498.2,766.6 C499.35,765.1 500.25,763.12 501.6,762.5 C502.95,761.88 504.83,763.68 506.3,762.9 C507.77,762.12 509.27,758.2 510.4,757.8 C511.53,757.4 512.25,759.65 513.1,760.5 C513.95,761.35 514.58,764.2 515.5,762.9 C516.42,761.6 517.75,754.82 518.6,752.7 C519.45,750.58 519.92,749.87 520.6,750.2 C521.28,750.53 522.02,751.9 522.7,754.7 C523.38,757.5 523.92,763.65 524.7,767 C525.48,770.35 526.62,773.95 527.4,774.8 C528.18,775.65 528.82,776.12 529.4,772.1 C529.98,768.08 530.48,757.68 530.9,750.7 C531.32,743.72 531.57,736.98 531.9,730.2 C532.23,723.42 532.63,716.7 532.9,710 C533.17,703.3 533.23,697.85 533.5,690 C533.77,682.15 534.13,670.4 534.5,662.9 C534.87,655.4 535.33,649.12 535.7,645 C536.07,640.88 536.15,640.7 536.7,638.2 C537.25,635.7 538.22,632.23 539,630 C539.78,627.77 540.52,626.12 541.4,624.8 C542.28,623.48 543.23,622.68 544.3,622.1 C545.37,621.52 546.53,621.83 547.8,621.3 C549.07,620.77 550.63,619.25 551.9,618.9 C553.17,618.55 554.23,619.03 555.4,619.2 C556.57,619.37 557.83,620.13 558.9,619.9 C559.97,619.67 560.83,618.93 561.8,617.8 C562.77,616.67 563.63,614.37 564.7,613.1 C565.77,611.83 567.03,610.88 568.2,610.2 C569.37,609.52 570.53,609.25 571.7,609 C572.87,608.75 574.03,608.6 575.2,608.7 C576.37,608.8 577.53,609.12 578.7,609.6 C579.87,610.08 581.03,610.63 582.2,611.6 C583.37,612.57 584.53,613.88 585.7,615.4 C586.87,616.92 588.03,618.85 589.2,620.7 C590.37,622.55 591.53,624.85 592.7,626.5 C593.87,628.15 595.03,629.67 596.2,630.6 C597.37,631.53 598.17,631.37 599.7,632.1 C601.23,632.83 603.38,634.03 605.4,635 C607.42,635.97 610.03,636.85 611.8,637.9 C613.57,638.95 614.58,640.3 616,641.3 C617.42,642.3 618.53,643.37 620.3,643.9 C622.07,644.43 624.48,644.15 626.6,644.5 C628.72,644.85 630.53,645.53 633,646 C635.47,646.47 638.23,646.95 641.4,647.3 C644.57,647.65 648.82,647.9 652,648.1 C655.18,648.3 657.63,648.35 660.5,648.5 C663.37,648.65 667.75,648.92 669.2,649" fill="none" stroke="#0000ff" stroke-width="1.8" stroke-linejoin="round" clip-path="url(#clip-b3)"/>
<rect x="70.4" y="21.6" width="90.3" height="33.2" fill="#fff" stroke="#545454" stroke-width="1"/>
<line x1="72.9" y1="30.6" x2="91.4" y2="30.6" stroke="#0000ff" stroke-width="1.8"/>
<line x1="72.9" y1="45.7" x2="91.4" y2="45.7" stroke="#ff0000" stroke-width="2" stroke-dasharray="8,7"/>
<text x="93.7" y="35.3" class="l">Data at 0 ns</text>
<text x="93.7" y="51.3" class="l">Bestfit</text>
<rect x="70.4" y="307.6" width="100.2" height="33.2" fill="#fff" stroke="#545454" stroke-width="1"/>
<line x1="72.9" y1="316.6" x2="91.4" y2="316.6" stroke="#0000ff" stroke-width="1.8"/>
<line x1="72.9" y1="331.7" x2="91.4" y2="331.7" stroke="#ff0000" stroke-width="2" stroke-dasharray="8,7"/>
<text x="93.7" y="321.3" class="l">Data at 2.1 ns</text>
<text x="93.7" y="337.3" class="l">Bestfit</text>
<rect x="70.4" y="598.6" width="100.2" height="33.2" fill="#fff" stroke="#545454" stroke-width="1"/>
<line x1="72.9" y1="607.6" x2="91.4" y2="607.6" stroke="#0000ff" stroke-width="1.8"/>
<line x1="72.9" y1="622.7" x2="91.4" y2="622.7" stroke="#ff0000" stroke-width="2" stroke-dasharray="8,7"/>
<text x="93.7" y="612.3" class="l">Data at 2.8 ns</text>
<text x="93.7" y="628.3" class="l">Bestfit</text>
<text x="-0.5" y="19" class="p">(a)</text>
<text x="343" y="19" class="p">(b)</text>
<text x="434" y="411.6" class="lb" style="font-size:18.5px">wave</text>
<text x="434" y="434" class="lb" style="font-size:18.5px">propagation</text>
<line x1="459" y1="446.6" x2="481.9" y2="446.6" stroke="#444" stroke-width="1"/>
<path d="M454.3,446.6 L461.6,443.1 L460.6,446.6 L461.6,450.1 Z" fill="#000"/>
</svg></body></html>
